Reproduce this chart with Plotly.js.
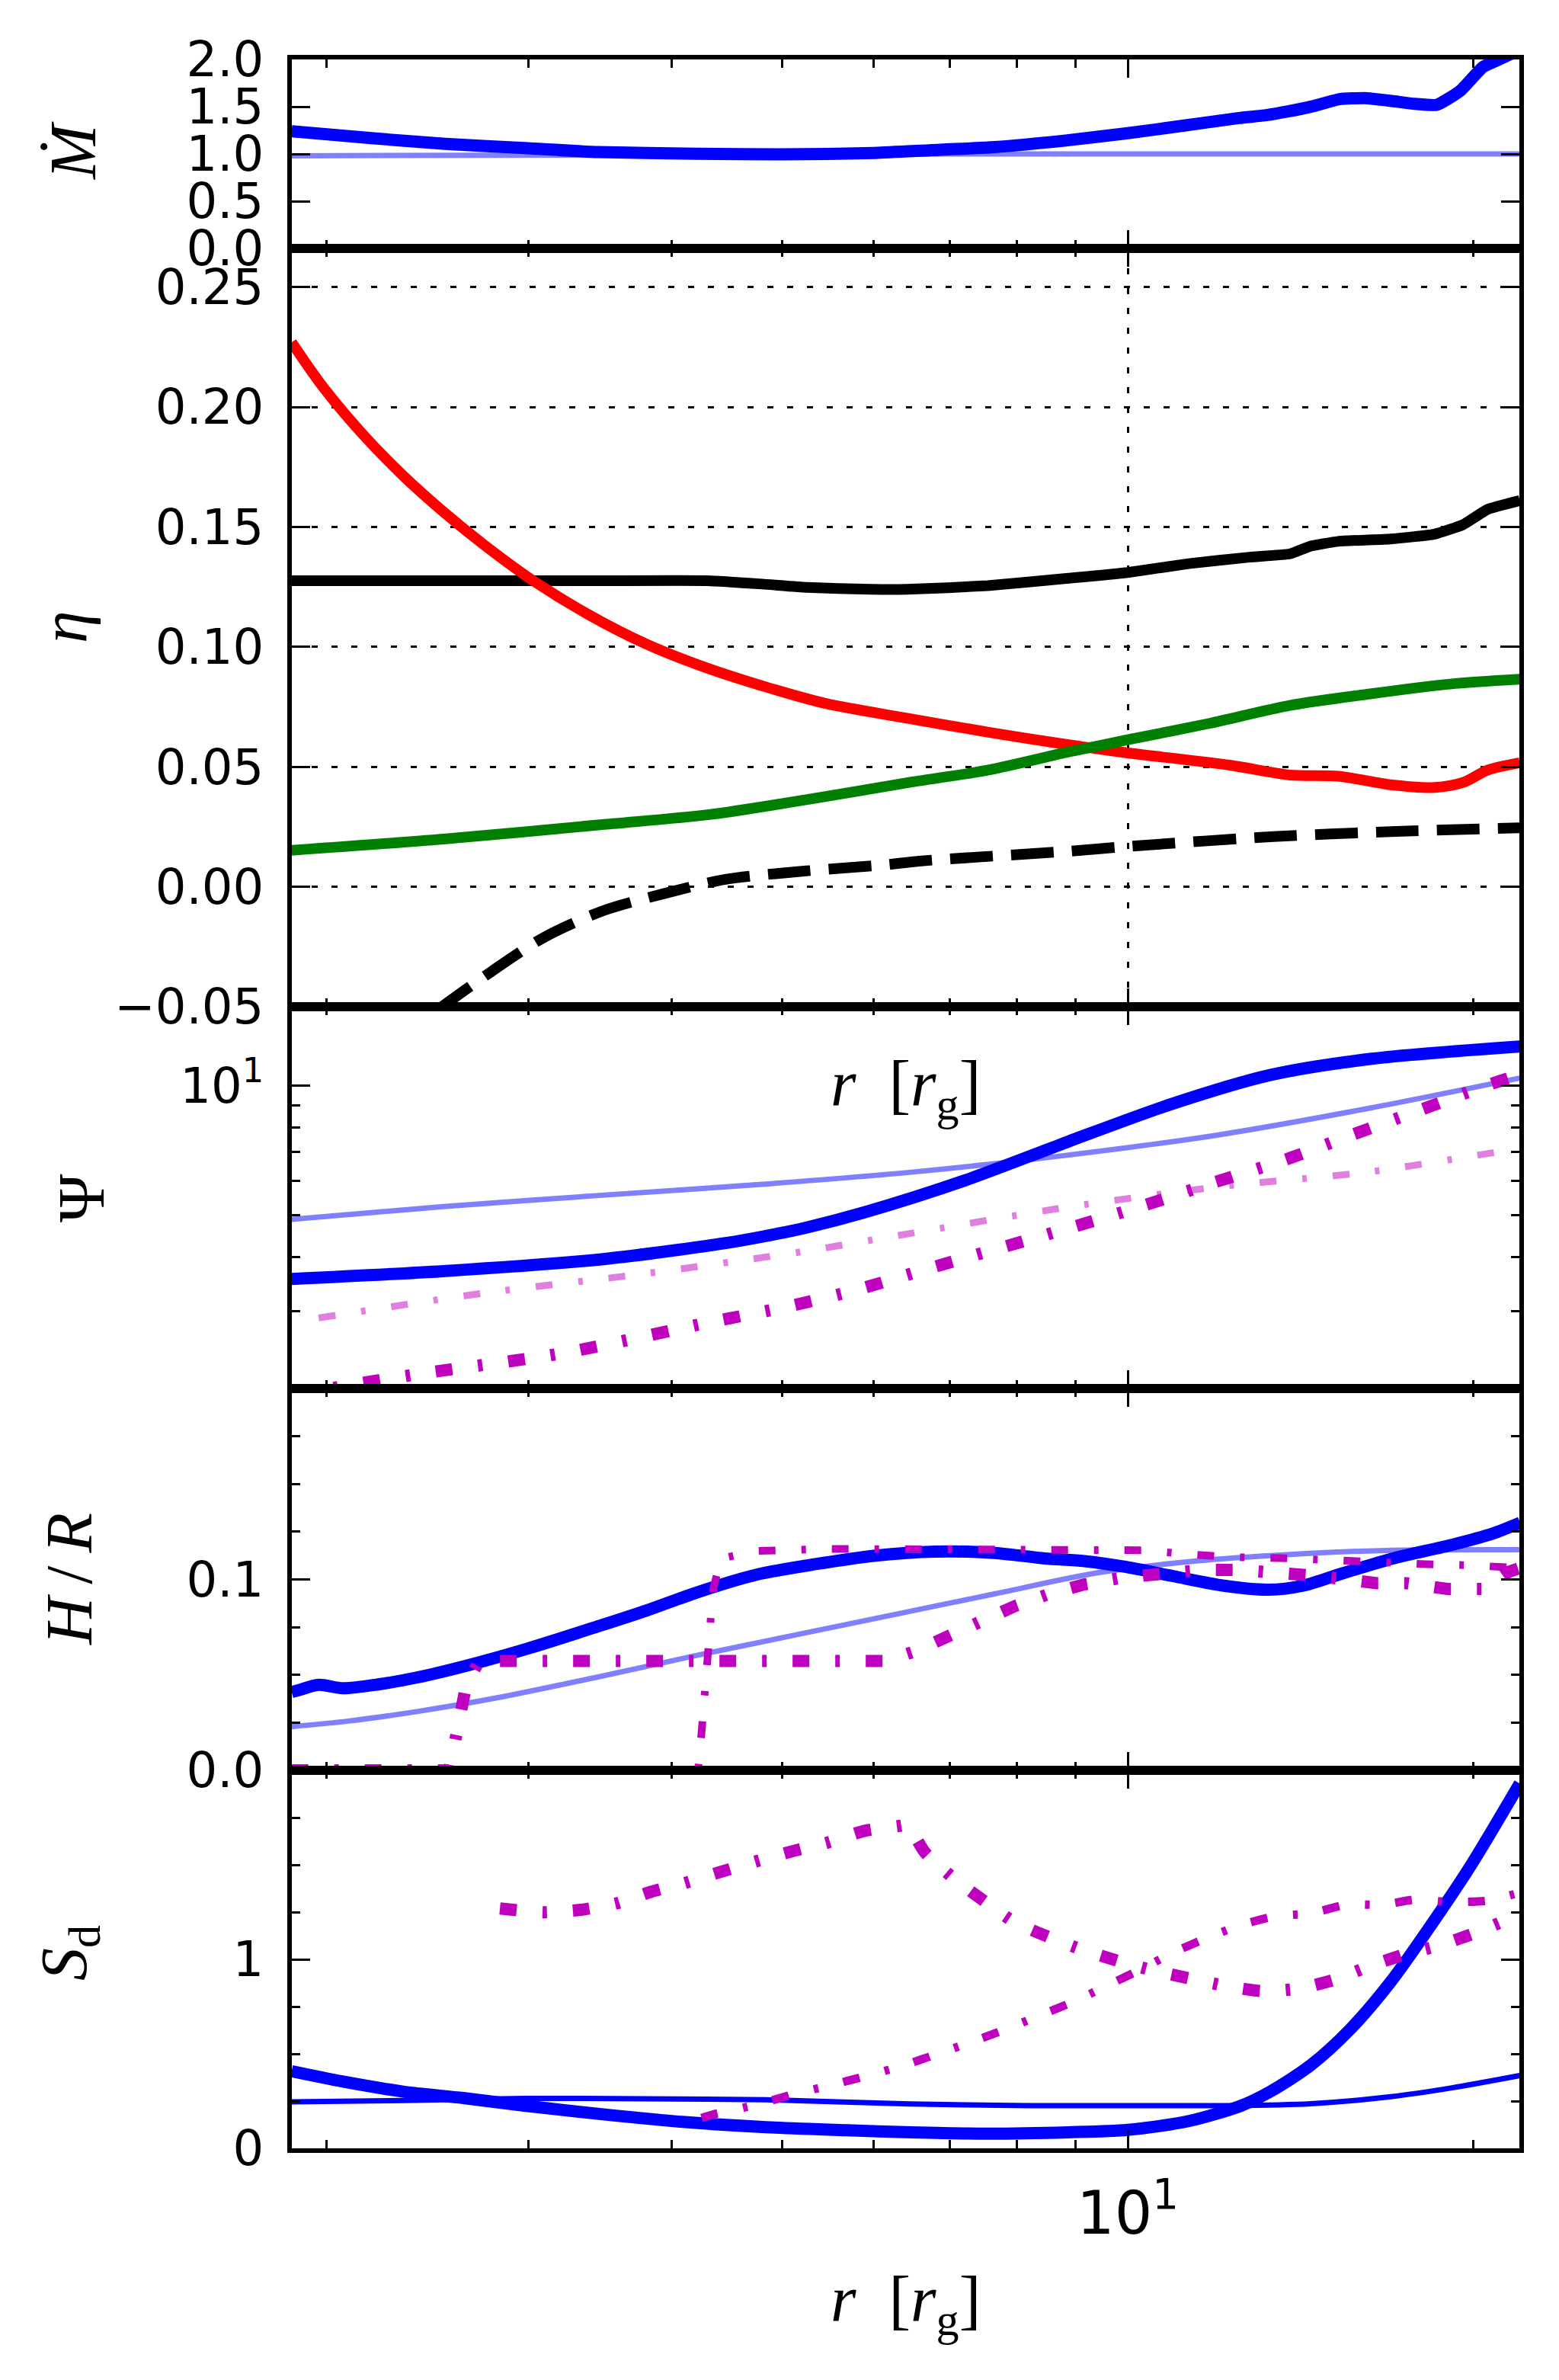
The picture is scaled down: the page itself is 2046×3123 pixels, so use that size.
<!DOCTYPE html>
<html><head><meta charset="utf-8">
<script src="https://cdn.plot.ly/plotly-3.0.1.min.js"></script>
<style>html,body{margin:0;padding:0;background:#fff}</style>
</head><body>
<div id="chart" style="width:2046px;height:3123px"></div>
<script>
// ---------------- data (r in r_g) ----------------
// Panel 1: Mdot
var rMdotThick = [1.866, 2.2, 2.54, 3.0, 3.45, 4.2, 5.0, 6.0, 6.6, 7.6, 8.8, 10.0, 11.2, 12.5, 13.2, 13.8, 14.5, 15.3, 16.1, 17.0, 17.8, 18.6, 19.5, 20.4, 20.9, 21.5, 22.0];
var mdotThick  = [1.24, 1.165, 1.107, 1.06, 1.02, 1.003, 0.995, 1.01, 1.035, 1.07, 1.14, 1.22, 1.30, 1.38, 1.41, 1.45, 1.505, 1.58, 1.59, 1.56, 1.53, 1.52, 1.67, 1.92, 1.98, 2.05, 2.1];
var rMdotThin = [1.866, 2.8, 3.5, 5.0, 7.0, 10.0, 14.0, 18.0, 22.0];
var mdotThin  = [0.98, 0.99, 0.995, 1.0, 1.0, 1.0, 1.0, 1.0, 1.0];

// Panel 2: eta
var rEtaTot = [1.866, 2.5, 3.0, 3.5, 4.3, 4.8, 5.25, 5.97, 6.42, 7.55, 8.88, 10.0, 11.3, 12.77, 13.85, 14.41, 15.26, 16.95, 18.52, 19.61, 20.59, 21.97];
var etaTot  = [0.1276, 0.1276, 0.1276, 0.1276, 0.1276, 0.1262, 0.1248, 0.1240, 0.1240, 0.1255, 0.1286, 0.131, 0.1347, 0.1374, 0.1388, 0.1419, 0.1440, 0.1450, 0.1470, 0.1510, 0.1573, 0.161];
var rEtaRed = [1.866, 1.985, 2.152, 2.334, 2.531, 2.745, 3.022, 3.386, 3.791, 4.284, 4.835, 5.464, 6.417, 7.546, 8.875, 9.26, 10.0, 12.27, 13.85, 15.26, 16.95, 18.52, 19.61, 20.59, 21.97];
var etaRed  = [0.227, 0.2087, 0.1887, 0.1714, 0.1563, 0.1426, 0.128, 0.1135, 0.1015, 0.0914, 0.0833, 0.0763, 0.0703, 0.0645, 0.0592, 0.058, 0.0558, 0.0507, 0.0466, 0.0461, 0.0425, 0.0414, 0.0435, 0.0486, 0.0517];
var rEtaGreen = [1.866, 2.531, 3.496, 4.317, 5.244, 6.45, 7.546, 8.875, 9.26, 10.0, 11.78, 13.85, 16.27, 19.1, 21.97];
var etaGreen  = [0.0152, 0.0199, 0.026, 0.0301, 0.0363, 0.0435, 0.0486, 0.0562, 0.058, 0.0613, 0.0681, 0.0756, 0.0804, 0.0845, 0.0865];
var rEtaDash = [2.49, 2.745, 3.097, 3.496, 3.952, 4.459, 5.244, 6.166, 6.577, 8.875, 10.0, 13.4, 16.95, 21.97];
var etaDash  = [-0.052, -0.0375, -0.0211, -0.0098, -0.0027, 0.0031, 0.0066, 0.0092, 0.0107, 0.0148, 0.0168, 0.0209, 0.023, 0.0246];

// Panel 3: Psi
var rPsiThick = [1.866, 2.53, 3.5, 4.46, 4.8, 5.24, 5.88, 7.22, 8.85, 10.86, 13.31, 16.32, 21.97];
var psiThick  = [3.56, 3.71, 3.96, 4.31, 4.46, 4.68, 5.07, 6.03, 7.39, 9.01, 10.57, 11.53, 12.31];
var rPsiThin = [1.866, 2.53, 3.5, 4.8, 6.5, 8.85, 12.0, 16.3, 21.97];
var psiThin  = [4.89, 5.24, 5.57, 5.9, 6.3, 6.89, 7.68, 8.87, 10.4];
var rPsiMagA = [1.866, 2.05, 2.43, 3.23, 4.28, 5.05, 5.83, 6.72, 8.94, 10.31, 11.9, 13.73, 15.67, 18.07, 20.65, 21.97];
var psiMagA  = [1.9, 2.0, 2.15, 2.4, 2.81, 3.07, 3.37, 3.77, 4.69, 5.26, 5.96, 6.73, 7.67, 8.81, 10.04, 10.6];
var rPsiMagB = [1.97, 2.745, 3.79, 4.8, 5.24, 6.5, 8.85, 12.0, 16.3, 20.84, 21.97];
var psiMagB  = [2.89, 3.3, 3.66, 3.99, 4.13, 4.55, 5.22, 5.82, 6.31, 6.98, 7.1];

// Panel 4: H/R
var rHRThick = [1.866, 1.893, 1.97, 2.068, 2.22, 2.403, 2.658, 2.995, 3.443, 3.808, 4.206, 4.739, 5.341, 6.028, 6.79, 7.65, 8.465, 9.166, 9.924, 10.96, 12.13, 13.26, 14.21, 15.39, 17.03, 19.19, 20.78, 21.99];
var hrThick  = [0.041, 0.042, 0.0448, 0.043, 0.045, 0.0487, 0.055, 0.0637, 0.0752, 0.0838, 0.0931, 0.1024, 0.108, 0.1125, 0.1146, 0.1139, 0.111, 0.1096, 0.1067, 0.1017, 0.0967, 0.0946, 0.0967, 0.1032, 0.111, 0.1182, 0.1239, 0.1297];
var rHRThin = [1.866, 2.09, 2.40, 2.82, 3.44, 4.21, 5.13, 6.27, 7.65, 9.35, 11.43, 13.94, 17.03, 21.99];
var hrThin  = [0.0229, 0.0258, 0.0308, 0.038, 0.0487, 0.0602, 0.0709, 0.0817, 0.0924, 0.1032, 0.1096, 0.1132, 0.1153, 0.1156];
var rHRMagA = [1.866, 2.56, 2.6, 2.65, 2.72, 3.5, 4.5, 5.5, 6.15, 6.52, 6.93, 7.43, 7.97, 8.54, 9.16, 9.92, 10.74, 11.65, 12.5, 13.5, 14.5, 15.5, 16.5, 17.5, 19.0, 20.5, 21.5, 21.99];
var hrMagA  = [0.0, 0.0, 0.02, 0.045, 0.0573, 0.0573, 0.0573, 0.0573, 0.0573, 0.0623, 0.0695, 0.078, 0.086, 0.0924, 0.0974, 0.101, 0.1032, 0.105, 0.105, 0.104, 0.102, 0.100, 0.098, 0.098, 0.095, 0.095, 0.104, 0.106];
var rHRMagB = [1.866, 4.22, 4.25, 4.3, 4.35, 4.42, 4.74, 5.5, 7.65, 10.3, 11.4, 12.3, 13.9, 15.4, 18.2, 19.7, 21.3, 21.99];
var hrMagB  = [0.0, 0.0, 0.02, 0.06, 0.095, 0.111, 0.1149, 0.116, 0.116, 0.1153, 0.113, 0.1117, 0.111, 0.1096, 0.108, 0.1075, 0.106, 0.106];

// Panel 5: S_d
var rSdThick = [1.866, 2.065, 2.334, 2.634, 2.977, 3.499, 4.111, 4.835, 5.686, 6.476, 7.546, 8.875, 10.0, 11.32, 12.56, 13.31, 14.44, 15.63, 16.95, 18.38, 19.93, 21.97];
var sdThick  = [0.408, 0.354, 0.300, 0.266, 0.226, 0.179, 0.139, 0.112, 0.0956, 0.085, 0.078, 0.085, 0.098, 0.145, 0.226, 0.30, 0.44, 0.63, 0.88, 1.18, 1.50, 1.93];
var rSdThin = [1.866, 2.334, 2.977, 3.79, 4.835, 6.45, 8.18, 10.4, 12.27, 14.44, 16.95, 19.17, 21.97];
var sdThin  = [0.246, 0.253, 0.264, 0.262, 0.257, 0.235, 0.226, 0.226, 0.226, 0.236, 0.273, 0.32, 0.385];
var rSdMagA = [2.835, 3.097, 3.333, 3.583, 3.838, 4.111, 4.424, 4.739, 5.101, 5.482, 5.899, 6.349, 6.42, 6.657, 7.045, 7.489, 7.95, 8.515, 9.095, 9.788, 10.44, 11.32, 12.18, 13.09, 14.09, 15.14, 16.29, 17.46, 18.70, 20.12, 21.65, 21.97];
var sdMagA  = [1.269, 1.249, 1.262, 1.296, 1.357, 1.404, 1.464, 1.518, 1.572, 1.619, 1.68, 1.707, 1.713, 1.565, 1.43, 1.31, 1.20, 1.12, 1.054, 0.993, 0.946, 0.899, 0.859, 0.832, 0.845, 0.892, 0.966, 1.027, 1.074, 1.141, 1.222, 1.24];
var rSdMagB = [4.25, 4.35, 4.76, 5.117, 5.507, 5.899, 6.349, 6.79, 7.308, 7.828, 8.387, 8.985, 9.625, 10.26, 10.94, 11.73, 12.56, 13.46, 14.41, 15.51, 16.7, 17.81, 19.1, 20.59, 21.88];
var sdMagB  = [0.16, 0.179, 0.233, 0.287, 0.334, 0.381, 0.435, 0.495, 0.563, 0.63, 0.704, 0.778, 0.865, 0.946, 1.034, 1.114, 1.182, 1.229, 1.242, 1.289, 1.289, 1.316, 1.303, 1.31, 1.35];

// tick labels
var xTickVals = [10];
var xTickText = ['10<sup>1</sup>'];
var xMinorVals = [2, 3, 4, 5, 6, 7, 8, 9, 20];
var mdotTickVals = [0, 0.5, 1, 1.5, 2];
var mdotTickText = ['0.0', '0.5', '1.0', '1.5', '2.0'];
var etaTickVals = [-0.05, 0, 0.05, 0.10, 0.15, 0.20, 0.25];
var etaTickText = ['\u22120.05', '0.00', '0.05', '0.10', '0.15', '0.20', '0.25'];
var psiTickVals = [10];
var psiTickText = ['10<sup>1</sup>'];
var psiMinorVals = [2, 3, 4, 5, 6, 7, 8, 9];
var hrTickVals = [0, 0.1, 0.2];
var hrTickText = ['0.0', '0.1', ''];
var sdTickVals = [0, 1, 2];
var sdTickText = ['0', '1', ''];

// ---------------- styles ----------------
var BLUE = '#0000ff', LBLUE = '#8080ff', MAG = '#bf00bf', LMAG = '#df80df';
var DASHDOT = '22px,34px,6px,34px';
var DASHED = '56px,24px';

function tr(x, y, k, color, width, dash, smooth) {
  var s = k === 1 ? '' : String(k);
  var line = {color: color, width: width, dash: dash || 'solid'};
  if (smooth) { line.shape = 'spline'; line.smoothing = smooth; }
  return {x: x, y: y, xaxis: 'x' + s, yaxis: 'y' + s, type: 'scatter', mode: 'lines',
          line: line, hoverinfo: 'skip', showlegend: false};
}

var data = [
  tr(rMdotThin, mdotThin, 1, LBLUE, 7),
  tr(rMdotThick, mdotThick, 1, BLUE, 16, null, 0.5),

  tr(rEtaTot, etaTot, 2, '#000000', 14, null, 0.4),
  tr(rEtaRed, etaRed, 2, '#ff0000', 14, null, 0.8),
  tr(rEtaGreen, etaGreen, 2, '#008000', 14, null, 0.8),
  tr(rEtaDash, etaDash, 2, '#000000', 14, DASHED, 0.8),

  tr(rPsiThin, psiThin, 3, LBLUE, 7, null, 0.8),
  tr(rPsiThick, psiThick, 3, BLUE, 16, null, 0.8),
  tr(rPsiMagB, psiMagB, 3, LMAG, 9, DASHDOT, 0.8),
  tr(rPsiMagA, psiMagA, 3, MAG, 16, DASHDOT, 0.8),

  tr(rHRThin, hrThin, 4, LBLUE, 7, null, 0.8),
  tr(rHRThick, hrThick, 4, BLUE, 16, null, 0.8),
  tr(rHRMagB, hrMagB, 4, MAG, 10, DASHDOT),
  tr(rHRMagA, hrMagA, 4, MAG, 16, DASHDOT),

  tr(rSdThin, sdThin, 5, BLUE, 7, null, 0.8),
  tr(rSdThick, sdThick, 5, BLUE, 16, null, 0.8),
  tr(rSdMagB, sdMagB, 5, MAG, 11, DASHDOT, 0.6),
  tr(rSdMagA, sdMagA, 5, MAG, 16, DASHDOT, 0.6)
];

// ---------------- layout ----------------
var W = 2046, H = 3123, ML = 383, MR = 52, MT = 78, MB = 304;
var PW = W - ML - MR, PH = H - MT - MB;
function fy(py) { return (H - MB - py) / PH; }
function fx(px) { return (px - ML) / PW; }
var bounds = [MT, 326, 1321, 1822, 2323, H - MB];

var TICKFONT = {family: 'DejaVu Sans', size: 64, color: '#000'};
var XRANGE = [0.2711, 1.3415];

function xAxis(k) {
  var a = {
    type: 'log', range: XRANGE, anchor: k === 1 ? 'y' : 'y' + k,
    showline: true, linewidth: 6, linecolor: '#000', mirror: 'ticks',
    ticks: 'inside', ticklen: 24, tickwidth: 3, tickcolor: '#000',
    tickmode: 'array', tickvals: xTickVals, ticktext: xTickText,
    showticklabels: k === 5, tickfont: {family: 'DejaVu Sans', size: 78, color: '#000'},
    ticklabelstandoff: 12,
    showgrid: false, zeroline: false, fixedrange: true,
    minor: {ticks: 'inside', ticklen: 11, tickwidth: 3, tickcolor: '#000',
            tickmode: 'array', tickvals: xMinorVals, showgrid: false}
  };
  if (k === 2) {
    a.showgrid = true; a.gridcolor = '#000'; a.gridwidth = 3; a.griddash = '8px,18px';
  }
  return a;
}
function yAxis(k, extra) {
  var a = {
    domain: [fy(bounds[k]), fy(bounds[k - 1])], anchor: k === 1 ? 'x' : 'x' + k,
    showline: true, linewidth: 6, linecolor: '#000', mirror: 'ticks',
    ticks: 'inside', ticklen: 24, tickwidth: 3, tickcolor: '#000',
    tickmode: 'array', tickfont: TICKFONT, ticklabelstandoff: 18,
    showgrid: false, zeroline: false, fixedrange: true
  };
  for (var key in extra) a[key] = extra[key];
  return a;
}

var layout = {
  width: W, height: H, autosize: false,
  margin: {l: ML, r: MR, t: MT, b: MB, pad: 0},
  paper_bgcolor: '#fff', plot_bgcolor: '#fff',
  showlegend: false, hovermode: false,
  font: TICKFONT,
  xaxis: xAxis(1), xaxis2: xAxis(2), xaxis3: xAxis(3), xaxis4: xAxis(4), xaxis5: xAxis(5),
  yaxis: yAxis(1, {range: [0, 2.0], tickvals: mdotTickVals, ticktext: mdotTickText}),
  yaxis2: yAxis(2, {range: [-0.05, 0.2661], tickvals: etaTickVals, ticktext: etaTickText,
                    showgrid: true, gridcolor: '#000', gridwidth: 3, griddash: '8px,18px'}),
  yaxis3: yAxis(3, {type: 'log', range: [0.2973, 1.1825], tickvals: psiTickVals, ticktext: psiTickText,
                    minor: {ticks: 'inside', ticklen: 11, tickwidth: 3, tickcolor: '#000',
                            tickmode: 'array', tickvals: psiMinorVals, showgrid: false}}),
  yaxis4: yAxis(4, {range: [0, 0.2], tickvals: hrTickVals, ticktext: hrTickText,
                    minor: {ticks: 'inside', ticklen: 11, tickwidth: 3, tickcolor: '#000',
                            tickmode: 'linear', tick0: 0, dtick: 0.025, showgrid: false}}),
  yaxis5: yAxis(5, {range: [0, 2.0], tickvals: sdTickVals, ticktext: sdTickText,
                    minor: {ticks: 'inside', ticklen: 11, tickwidth: 3, tickcolor: '#000',
                            tickmode: 'linear', tick0: 0, dtick: 0.25, showgrid: false}}),
  annotations: []
};

var LABELFONT = {family: 'Liberation Serif', size: 86, color: '#000'};
function ann(text, px, py, angle) {
  return {text: text, xref: 'paper', yref: 'paper', x: fx(px), y: fy(py),
          xanchor: 'center', yanchor: 'middle', showarrow: false, textangle: angle || 0,
          font: LABELFONT};
}
layout.annotations.push(ann('<i>\u1E40</i>', 96, 198, -90));
layout.annotations.push(ann('<i>\u03B7</i>', 84, 823, -90));
layout.annotations.push(ann('\u03A8', 107, 1572, -90));
layout.annotations.push(ann('<i>H</i>\u2009/\u2009<i>R</i>', 91, 2072, -90));
layout.annotations.push(ann('<i>S</i><sub>d</sub>', 90, 2563, -90));
layout.annotations.push(ann('<i>r</i>  [<i>r</i><sub>g</sub>]', 1188, 1428, 0));
layout.annotations.push(ann('<i>r</i>  [<i>r</i><sub>g</sub>]', 1188, 3023, 0));

Plotly.newPlot('chart', data, layout, {staticPlot: true, displayModeBar: false});
</script>
</body></html>
